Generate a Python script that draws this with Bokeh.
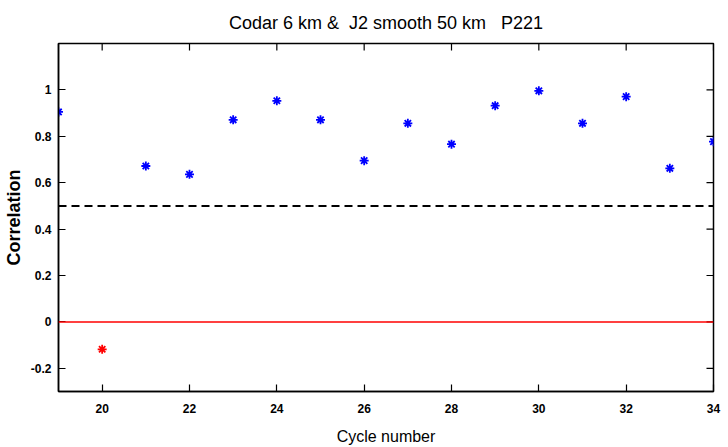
import math
from bokeh.plotting import figure
from bokeh.models import Range1d, Span, FixedTicker, ColumnDataSource
from bokeh.embed import file_html
from bokeh.resources import INLINE

cycles = [19, 20, 21, 22, 23, 24, 25, 26, 27, 28, 29, 30, 31, 32, 33, 34]
corr = [0.905, -0.118, 0.672, 0.636, 0.871, 0.953, 0.871, 0.695, 0.856, 0.766,
        0.932, 0.996, 0.856, 0.971, 0.662, 0.777]
x_ticks = [20, 22, 24, 26, 28, 30, 32, 34]
y_ticks = [-0.2, 0, 0.2, 0.4, 0.6, 0.8, 1.0]
x_min, x_max = 19, 34
y_min, y_max = -0.3, 1.2
threshold = 0.5
title_text = "Codar 6 km &\u00a0 J2 smooth 50 km \u00a0 P221"

FONT = "Liberation Sans, Arial, sans-serif"

colors = ["#ff0000" if v < 0 else "#0000ff" for v in corr]
src = ColumnDataSource(dict(x=cycles, y=corr, c=colors))

p = figure(width=728, height=447, output_backend="svg", toolbar_location=None,
           x_range=Range1d(x_min, x_max), y_range=Range1d(y_min, y_max),
           min_border_left=58, min_border_right=15, min_border_top=6,
           min_border_bottom=10)
p.title.text = title_text
p.title.align = "center"
p.title.text_font = FONT
p.title.text_font_size = "18px"
p.title.text_font_style = "normal"
p.title.text_color = "#000000"
p.title.standoff = 21

p.grid.visible = False
p.outline_line_color = "#000000"
p.outline_line_width = 1.5

for ax in [p.xaxis[0], p.yaxis[0]]:
    ax.major_tick_in = 7
    ax.major_tick_out = 0
    ax.minor_tick_line_color = None
    ax.axis_line_color = "#000000"
    ax.axis_line_width = 1.5
    ax.major_tick_line_width = 1.2
    ax.major_label_text_font = FONT
    ax.major_label_text_font_style = "bold"
    ax.major_label_text_font_size = "12px"
    ax.major_label_text_color = "#000000"

p.xaxis.ticker = FixedTicker(ticks=x_ticks)
p.yaxis.ticker = FixedTicker(ticks=y_ticks)
p.yaxis.major_label_overrides = {-0.2: "-0.2", 0: "0", 0.2: "0.2", 0.4: "0.4",
                                 0.6: "0.6", 0.8: "0.8", 1.0: "1"}
p.xaxis.major_label_standoff = 12
p.yaxis.major_label_standoff = 7

p.xaxis.axis_label = "Cycle number"
p.xaxis.axis_label_text_font = FONT
p.xaxis.axis_label_text_font_style = "normal"
p.xaxis.axis_label_text_font_size = "16px"
p.xaxis.axis_label_text_color = "#000000"
p.xaxis.axis_label_standoff = 12

p.yaxis.axis_label = "Correlation"
p.yaxis.axis_label_text_font = FONT
p.yaxis.axis_label_text_font_style = "bold"
p.yaxis.axis_label_text_font_size = "18px"
p.yaxis.axis_label_text_color = "#000000"
p.yaxis.axis_label_standoff = 4

# mirrored ticks on the top and right edges: dash markers centred on the
# frame edge, half of each clipped away by the frame
p.scatter(x=x_ticks, y=[y_max] * len(x_ticks), marker="dash", size=14,
          angle=math.pi / 2, line_color="#000000", line_width=1.2)
p.scatter(x=[x_max] * len(y_ticks), y=y_ticks, marker="dash", size=14,
          line_color="#000000", line_width=1.2)

p.add_layout(Span(location=0, dimension="width", line_color="#ff0000", line_width=1.5))
p.add_layout(Span(location=threshold, dimension="width", line_color="#000000",
                  line_width=2, line_dash="8 5"))

p.scatter("x", "y", source=src, marker="asterisk", size=9, line_color="c", line_width=1.8)

open("out.html", "w").write(file_html(p, INLINE))
